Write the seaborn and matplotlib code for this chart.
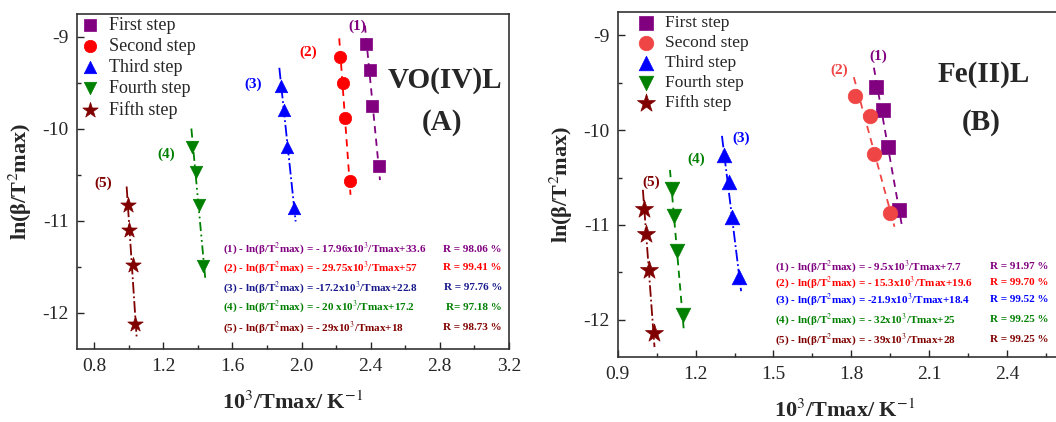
import numpy as np
import matplotlib
matplotlib.use("Agg")
from matplotlib import pyplot as plt
from matplotlib.ticker import MultipleLocator
import seaborn as sns

# ---- data ----
steps = ["First step", "Second step", "Third step", "Fourth step", "Fifth step"]
markers = ["s", "o", "^", "v", "*"]

# panel A: VO(IV)L
a_x1 = [2.375, 2.398, 2.406, 2.448]
a_y1 = [-9.08, -9.36, -9.76, -10.41]
a_x2 = [2.224, 2.240, 2.249, 2.278]
a_y2 = [-9.22, -9.50, -9.89, -10.57]
a_x3 = [1.882, 1.901, 1.915, 1.959]
a_y3 = [-9.54, -9.80, -10.20, -10.86]
a_x4 = [1.366, 1.389, 1.409, 1.432]
a_y4 = [-10.20, -10.47, -10.83, -11.49]
a_x5 = [0.993, 1.003, 1.022, 1.038]
a_y5 = [-10.83, -11.10, -11.48, -12.12]

# panel B: Fe(II)L
b_x1 = [1.896, 1.921, 1.942, 1.983]
b_y1 = [-9.54, -9.79, -10.18, -10.84]
b_x2 = [1.813, 1.873, 1.886, 1.950]
b_y2 = [-9.64, -9.85, -10.25, -10.87]
b_x3 = [1.308, 1.327, 1.340, 1.368]
b_y3 = [-10.26, -10.55, -10.92, -11.55]
b_x4 = [1.109, 1.115, 1.128, 1.150]
b_y4 = [-10.62, -10.91, -11.28, -11.95]
b_x5 = [1.003, 1.009, 1.019, 1.038]
b_y5 = [-10.83, -11.10, -11.48, -12.14]

a_eqs = [
    "(1) - ln(β/T$^{2}$max) = - 17.96x10$^{3}$/Tmax+33.6",
    "(2) - ln(β/T$^{2}$max) = - 29.75x10$^{3}$/Tmax+57",
    "(3) - ln(β/T$^{2}$max) = -17.2x10$^{3}$/Tmax+22.8",
    "(4) - ln(β/T$^{2}$max) = - 20 x10$^{3}$/Tmax+17.2",
    "(5) - ln(β/T$^{2}$max) = - 29x10$^{3}$/Tmax+18",
]
a_r = ["R = 98.06 %", "R = 99.41 %", "R = 97.76 %", "R= 97.18 %", "R = 98.73 %"]
b_eqs = [
    "(1) - ln(β/T$^{2}$max) = - 9.5x10$^{3}$/Tmax+7.7",
    "(2) - ln(β/T$^{2}$max) = - 15.3x10$^{3}$/Tmax+19.6",
    "(3) - ln(β/T$^{2}$max) = -21.9x10$^{3}$/Tmax+18.4",
    "(4) - ln(β/T$^{2}$max) = - 32x10$^{3}$/Tmax+25",
    "(5) - ln(β/T$^{2}$max) = - 39x10$^{3}$/Tmax+28",
]
b_r = ["R = 91.97 %", "R = 99.70 %", "R = 99.52 %", "R = 99.25 %", "R = 99.25 %"]

sns.set_theme(style="ticks")
plt.rcParams["font.family"] = ["Liberation Serif", "DejaVu Serif"]
plt.rcParams["mathtext.fontset"] = "stix"
plt.rcParams["axes.unicode_minus"] = False
plt.rcParams["xtick.direction"] = "in"
plt.rcParams["ytick.direction"] = "in"

fig = plt.figure(figsize=(10.56, 4.22), dpi=100)
ax_a = fig.add_axes([0.0729, 0.172, 0.409, 0.796])
ax_b = fig.add_axes([0.585, 0.153, 0.430, 0.819])


def draw_panel(ax, xs, ys, colors, eq_colors, styles, tags, eqs, rs, eq_x, eq_y, r_x, r_ha,
               title, sub, title_xy, sub_xy, xlim, xmaj, msize, leg_x, leg_fs, eq_fs):
    for i in range(5):
        x = np.array(xs[i])
        y = np.array(ys[i])
        # fitted line (x as function of y, lines are nearly vertical)
        k, c = np.polyfit(y, x, 1)
        yy = np.array([y.max() + 0.2, y.min() - 0.15])
        ax.plot(k * yy + c, yy, color=colors[i], ls=styles[i], lw=1.3, zorder=1)
        sns.scatterplot(x=x, y=y, marker=markers[i], color=colors[i],
                        s=msize * 1.7 if markers[i] == "*" else msize, edgecolor=colors[i],
                        linewidth=0.5, label=steps[i], ax=ax, zorder=2)
        ax.text(tags[i][0], tags[i][1], f"({i + 1})", color=colors[i], fontsize=11,
                fontweight="bold", ha="center", va="center")
        ax.text(eq_x, eq_y[i], eqs[i], color=eq_colors[i], fontsize=eq_fs, fontweight="bold",
                ha="left", va="center")
        ax.text(r_x, eq_y[i], rs[i], color=eq_colors[i], fontsize=eq_fs, fontweight="bold",
                ha=r_ha, va="center")
    ax.text(*title_xy, title, fontsize=21, fontweight="bold", ha="center", va="center")
    ax.text(*sub_xy, sub, fontsize=21, fontweight="bold", ha="center", va="center")

    ax.set_xlim(*xlim)
    ax.set_ylim(-12.4, -8.75)
    ax.xaxis.set_major_locator(MultipleLocator(xmaj))
    ax.xaxis.set_minor_locator(MultipleLocator(xmaj / 2))
    ax.yaxis.set_major_locator(MultipleLocator(1))
    ax.yaxis.set_minor_locator(MultipleLocator(0.5))
    ax.tick_params(which="major", length=5, width=1, labelsize=14, pad=6)
    ax.tick_params(which="minor", length=3, width=1)
    for sp in ax.spines.values():
        sp.set_linewidth(1.2)
        sp.set_color("#333333")
    ax.set_xlabel("10$^{3}$/Tmax/ K$^{-1}$", fontsize=16, fontweight="bold", labelpad=12)
    ax.set_ylabel("ln(β/T$^{2}$max)", fontsize=16, fontweight="bold", labelpad=6)
    ax.legend(loc="upper left", frameon=False, fontsize=leg_fs, handletextpad=0.6,
              handlelength=1.0, labelspacing=0.22, borderaxespad=0.1, borderpad=0.1,
              bbox_to_anchor=(leg_x, 1.0))


draw_panel(
    ax_a,
    [a_x1, a_x2, a_x3, a_x4, a_x5], [a_y1, a_y2, a_y3, a_y4, a_y5],
    ["#800080", "#ff0000", "#0000ff", "#008000", "#800000"],
    ["#800080", "#ff0000", "#1a1a8c", "#008000", "#800000"],
    [(0, (4, 3)), (0, (4, 3)), "-.", (0, (5, 2, 1, 2, 1, 2)), "-."],
    [(2.32, -8.89), (2.04, -9.17), (1.72, -9.52), (1.215, -10.28), (0.852, -10.59)],
    a_eqs, a_r, 1.548, [-11.31, -11.51, -11.73, -11.94, -12.16], 3.16, "right",
    "VO(IV)L", "(A)", (2.83, -9.48), (2.81, -9.93), (0.7, 3.2), 0.4,
    80, 0.0, 13, 8,
)

draw_panel(
    ax_b,
    [b_x1, b_x2, b_x3, b_x4, b_x5], [b_y1, b_y2, b_y3, b_y4, b_y5],
    ["#800080", "#f04545", "#0000ff", "#008000", "#800000"],
    ["#800080", "#ff0000", "#0000ff", "#008000", "#800000"],
    [(0, (4, 3)), (0, (4, 3)), "-.", (0, (4, 3)), "-."],
    [(1.905, -9.22), (1.754, -9.37), (1.376, -10.09), (1.201, -10.31), (1.029, -10.55)],
    b_eqs, b_r, 1.507, [-11.44, -11.61, -11.79, -12.0, -12.21], 2.336, "left",
    "Fe(II)L", "(B)", (2.31, -9.41), (2.30, -9.92), (0.9, 2.65), 0.3,
    110, 0.035, 12.5, 8,
)

fig.savefig("out.png", dpi=100)
